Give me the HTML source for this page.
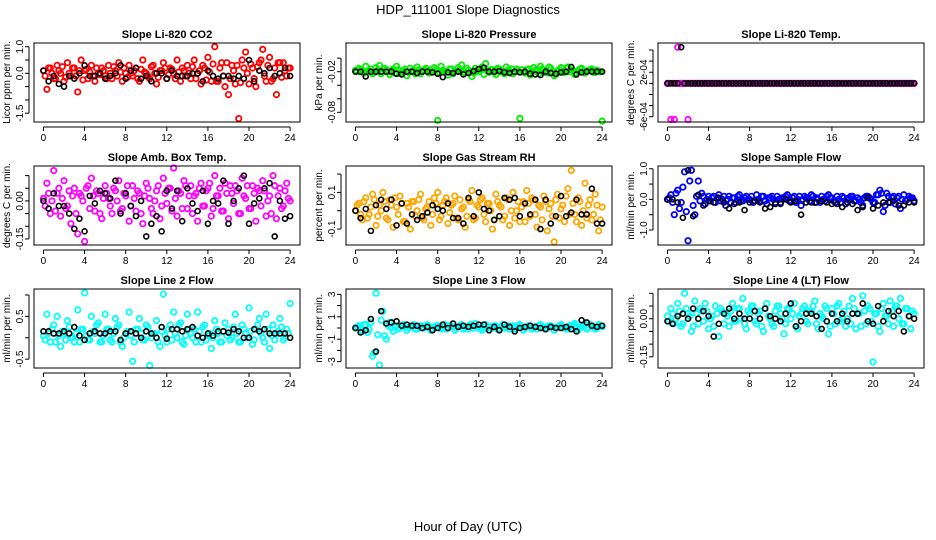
<!DOCTYPE html>
<html><head><meta charset="utf-8">
<style>
html,body{margin:0;padding:0;background:#fff;}
svg{display:block;font-family:"Liberation Sans",Arial,sans-serif;}
</style></head>
<body>
<svg id="chart" width="936" height="540" viewBox="0 0 936 540" xmlns="http://www.w3.org/2000/svg">
<text x="468" y="14" text-anchor="middle" font-size="13">HDP_111001  Slope Diagnostics</text>
<text x="468" y="531" text-anchor="middle" font-size="13">Hour of Day (UTC)</text>
</svg>
<script>
const titles = ["Slope Li-820 CO2","Slope Li-820 Pressure","Slope Li-820 Temp.","Slope Amb. Box Temp.","Slope Gas Stream RH","Slope Sample Flow","Slope Line 2 Flow","Slope Line 3 Flow","Slope Line 4 (LT) Flow"];
const yTitles = ["Licor ppm per min.","kPa per min.","degrees C per min.","degrees C per min.","percent per min.","ml/min per min.","ml/min per min.","ml/min per min.","ml/min per min."];
const colors = ["#ff0000","#00ee00","#ff00ff","#ff00ff","#ffa500","#0000ff","#00ffff","#00ffff","#00ffff"];
const xTicks = [0,4,8,12,16,20,24];
const yDomains = [[-1.83,1.14],[-0.0943,0.0224],[-6.95,7.26],[-0.174,0.138],[-0.187,0.244],[-1.49,1.09],[-0.707,1.14],[-3.57,3.48],[-0.194,0.117]];
const yTicks0 = [-1.5,-1,-0.5,0,0.5,1];
const yTickLabels0 = ["-1.5","","","0.0","","1.0"];
const yTicks1 = [-0.08,-0.06,-0.04,-0.02,0];
const yTickLabels1 = ["-0.08","","","-0.02",""];
const yTicks2 = [-6,-4,-2,0,2,4,6];
const yTickLabels2 = ["-6e-04","","","","2e-04","",""];
const yTicks3 = [-0.15,-0.1,-0.05,0,0.05,0.1];
const yTickLabels3 = ["-0.15","","","0.00","",""];
const yTicks4 = [-0.1,0,0.1,0.2];
const yTickLabels4 = ["-0.1","","0.1",""];
const yTicks5 = [-1,-0.5,0,0.5,1];
const yTickLabels5 = ["-1.0","","0.0","","1.0"];
const yTicks6 = [-0.5,0,0.5,1];
const yTickLabels6 = ["-0.5","","0.5",""];
const yTicks7 = [-3,-2,-1,0,1,2,3];
const yTickLabels7 = ["-3","","-1","","1","","3"];
const yTicks8 = [-0.15,-0.1,-0.05,0,0.05,0.1];
const yTickLabels8 = ["-0.15","","","0.00","",""];

// colored series A: values sampled every 1/3 hour from 0 to 24
const co2Values = [0.1,-0.6,0.2,-0.2,0.3,0.0,-0.3,0.4,-0.1,0.2,-0.7,0.5,0.1,-0.2,0.3,-0.3,0.0,0.2,-0.1,0.3,-0.2,0.1,0.4,-0.3,0.0,0.3,-0.1,0.2,-0.3,0.5,0.0,-0.2,0.3,-0.4,0.1,0.4,-0.2,0.2,0.0,0.5,-0.3,0.1,0.3,-0.2,0.5,0.0,-0.4,0.2,0.6,-0.3,1.0,-0.3,0.4,-0.5,-0.8,0.3,-0.4,-1.7,0.5,0.8,-0.4,0.2,-0.5,0.4,0.9,-0.3,0.6,-0.2,-0.8,0.4,0.4,-0.1,0.2];
// colored series B: values sampled every 1/3 hour, offset by 1/6 hour
const co2ValuesB = [-0.1,0.2,0.0,-0.2,0.1,0.25,-0.15,0.0,0.2,-0.1,0.1,-0.25,0.15,0.05,-0.1,0.2,-0.05,0.1,-0.2,0.0,0.25,-0.1,0.05,0.2,-0.15,0.0,0.1,-0.2,0.15,0.05,-0.1,0.25,0.0,-0.15,0.1,0.2,-0.05,0.15,-0.2,0.05,0.2,-0.1,0.0,0.25,-0.2,0.1,0.3,-0.25,0.05,0.35,-0.3,0.2,-0.1,0.4,-0.2,0.1,0.3,-0.35,0.2,0.0,0.35,-0.2,0.25,0.5,-0.1,0.3,-0.3,0.2,0.4,-0.15,0.1,0.2];
const co2Black = [0.1,-0.3,-0.1,-0.4,-0.5,-0.1,-0.2,0.0,0.3,-0.1,-0.1,0.0,-0.2,-0.1,0.0,0.3,-0.2,0.1,0.2,-0.2,-0.1,-0.3,0.0,0.0,-0.2,0.1,-0.1,-0.1,-0.1,0.0,0.0,-0.3,0.1,-0.1,-0.2,-0.1,-0.1,-0.2,-0.1,-0.2,0.5,-0.3,0.1,0.0,0.2,-0.1,0.0,0.2,-0.1];
const presValues = [-0.018,-0.015,-0.021,-0.012,-0.019,-0.023,-0.014,-0.011,-0.02,-0.017,-0.024,-0.016,-0.012,-0.022,-0.019,-0.026,-0.015,-0.02,-0.013,-0.023,-0.018,-0.016,-0.021,-0.014,-0.092,-0.012,-0.019,-0.025,-0.016,-0.02,-0.014,-0.01,-0.022,-0.018,-0.027,-0.015,-0.02,-0.013,-0.008,-0.021,-0.017,-0.024,-0.016,-0.02,-0.013,-0.019,-0.023,-0.016,-0.089,-0.021,-0.017,-0.025,-0.014,-0.02,-0.012,-0.018,-0.022,-0.015,-0.026,-0.019,-0.014,-0.021,-0.013,-0.017,-0.024,-0.019,-0.015,-0.022,-0.018,-0.016,-0.021,-0.019,-0.093];
const presValuesB = [-0.02,-0.017,-0.022,-0.019,-0.016,-0.021,-0.018,-0.023,-0.015,-0.02,-0.018,-0.022,-0.017,-0.02,-0.016,-0.021,-0.019,-0.023,-0.017,-0.02,-0.015,-0.022,-0.019,-0.017,-0.021,-0.018,-0.02,-0.016,-0.023,-0.019,-0.017,-0.021,-0.015,-0.02,-0.022,-0.018,-0.016,-0.024,-0.019,-0.017,-0.021,-0.015,-0.02,-0.023,-0.018,-0.016,-0.021,-0.019,-0.017,-0.022,-0.016,-0.02,-0.018,-0.023,-0.016,-0.021,-0.013,-0.02,-0.024,-0.017,-0.021,-0.015,-0.02,-0.018,-0.022,-0.016,-0.02,-0.019,-0.017,-0.021,-0.018,-0.02];
const presBlack = [-0.02,-0.02,-0.027,-0.02,-0.02,-0.02,-0.02,-0.02,-0.023,-0.024,-0.02,-0.02,-0.022,-0.02,-0.02,-0.021,-0.023,-0.028,-0.021,-0.022,-0.02,-0.024,-0.022,-0.019,-0.016,-0.014,-0.02,-0.02,-0.019,-0.021,-0.022,-0.02,-0.021,-0.02,-0.023,-0.024,-0.025,-0.02,-0.022,-0.023,-0.021,-0.02,-0.013,-0.024,-0.021,-0.02,-0.02,-0.02,-0.02];
// Li-820 temp in units of 1e-04 C/min
const tempValues = [0,-6.5,-6.5,6.5,0,0,-6.5,0,0,0,0,0,0,0,0,0,0,0,0,0,0,0,0,0,0,0,0,0,0,0,0,0,0,0,0,0,0,0,0,0,0,0,0,0,0,0,0,0,0,0,0,0,0,0,0,0,0,0,0,0,0,0,0,0,0,0,0,0,0,0,0,0,0];
const tempValuesB = [0,0,0,0,0,0,0,0,0,0,0,0,0,0,0,0,0,0,0,0,0,0,0,0,0,0,0,0,0,0,0,0,0,0,0,0,0,0,0,0,0,0,0,0,0,0,0,0,0,0,0,0,0,0,0,0,0,0,0,0,0,0,0,0,0,0,0,0,0,0,0,0];
const tempBlack = [0,0,0,0,6.5,0,0,0,0,0,0,0,0,0,0,0,0,0,0,0,0,0,0,0,0,0,0,0,0,0,0,0,0,0,0,0,0,0,0,0,0,0,0,0,0,0,0,0,0,0,0,0,0,0,0,0,0,0,0,0,0,0,0,0,0,0,0,0,0,0,0,0,0];
const boxValues = [0.01,0.07,-0.05,0.12,0.03,-0.06,0.08,-0.02,-0.09,0.05,-0.13,0.02,-0.16,0.06,0.09,-0.04,0.03,-0.07,0.06,0.01,-0.05,0.04,0.08,-0.03,0.02,-0.08,0.06,-0.04,0.03,-0.09,0.07,0.01,-0.05,0.04,-0.07,0.09,-0.01,0.05,0.13,-0.06,0.03,0.08,-0.03,0.06,0.02,-0.08,0.07,-0.02,0.05,-0.06,0.1,0.02,-0.04,0.07,-0.07,0.03,0.06,-0.05,0.09,0.01,-0.03,0.06,-0.08,0.04,0.08,-0.06,0.02,0.1,-0.07,0.05,-0.02,0.07,0.0];
const boxValuesB = [-0.02,0.03,0.0,-0.04,0.05,0.01,-0.03,0.04,0.02,-0.05,0.03,0.0,0.05,-0.03,0.02,0.04,-0.05,0.01,0.03,-0.02,0.05,0.0,-0.04,0.03,0.06,-0.02,0.01,0.04,-0.05,0.02,0.05,-0.03,0.0,0.06,-0.02,0.03,0.05,-0.04,0.01,0.04,-0.03,0.06,0.02,-0.05,0.03,0.05,-0.02,0.04,0.07,-0.03,0.02,0.05,-0.04,0.03,0.06,-0.01,0.04,-0.05,0.02,0.06,-0.03,0.03,0.05,-0.02,0.04,0.0,-0.05,0.06,0.02,-0.03,0.04,0.01];
const boxBlack = [0.0,-0.03,0.03,-0.02,-0.02,-0.05,-0.11,-0.07,-0.12,0.02,-0.01,0.04,0.03,0.01,0.08,-0.05,0.03,-0.02,-0.06,0.0,-0.14,-0.09,-0.06,-0.12,0.04,-0.03,0.04,-0.08,0.05,-0.01,-0.04,0.04,-0.09,0.0,-0.01,0.08,-0.09,0.0,0.05,0.1,-0.09,-0.01,0.01,0.05,0.07,-0.14,0.0,-0.07,-0.06];
const rhValues = [0.0,0.04,-0.05,0.07,-0.02,0.09,-0.08,0.03,0.1,-0.04,0.06,-0.09,0.02,0.08,-0.06,0.04,-0.1,0.05,0.0,0.09,-0.05,0.02,-0.08,0.07,0.1,-0.03,0.05,-0.07,0.03,0.08,-0.05,0.01,-0.09,0.06,0.11,-0.04,0.02,0.07,-0.06,0.04,-0.1,0.09,0.03,-0.05,0.07,-0.08,0.1,0.0,-0.06,0.05,0.11,-0.03,0.06,-0.09,0.02,0.08,-0.11,0.04,-0.17,0.09,0.01,-0.06,0.12,0.22,-0.02,0.07,-0.08,0.15,0.03,-0.05,0.09,-0.11,0.02];
const rhValuesB = [0.03,-0.02,0.05,-0.04,0.02,0.06,-0.03,0.0,0.05,-0.05,0.03,0.07,-0.02,0.04,-0.06,0.02,0.05,-0.03,0.06,-0.04,0.01,0.05,-0.02,0.04,-0.05,0.03,0.07,-0.01,0.04,-0.04,0.06,0.02,-0.03,0.05,-0.05,0.03,0.06,-0.02,0.04,0.0,-0.05,0.05,0.02,-0.03,0.06,0.0,-0.04,0.05,0.02,-0.06,0.04,0.07,-0.02,0.03,-0.05,0.05,0.01,-0.03,0.06,-0.04,0.03,0.08,-0.02,0.04,-0.06,0.05,0.0,-0.04,0.06,-0.02,0.03,-0.05];
const rhBlack = [0.0,-0.04,0.01,-0.11,0.03,0.06,0.01,0.06,-0.08,0.04,-0.07,-0.02,-0.05,-0.03,-0.01,0.03,0.01,0.0,0.04,-0.04,-0.04,-0.07,0.07,-0.03,0.1,0.01,0.0,-0.05,-0.03,0.07,0.06,0.07,-0.03,0.04,-0.02,0.06,-0.1,0.06,-0.07,-0.03,0.08,-0.03,-0.01,0.06,-0.02,-0.02,0.12,-0.07,-0.07];
const sfValues = [0.0,0.15,-0.5,0.3,-0.1,0.9,-1.35,0.95,-0.5,0.6,0.2,-0.15,0.1,0.05,-0.1,0.15,0.0,-0.2,0.1,0.05,-0.1,0.15,-0.05,0.1,0.0,-0.1,0.15,-0.05,0.1,-0.15,0.05,0.0,0.1,-0.1,0.05,0.15,-0.05,0.1,0.0,-0.2,0.1,0.05,0.15,-0.1,0.0,0.1,-0.05,0.15,0.05,-0.1,0.0,0.1,-0.15,0.05,0.1,-0.05,0.0,-0.2,0.1,0.05,-0.1,0.15,0.3,-0.4,0.2,-0.1,0.1,0.05,-0.3,0.15,0.0,0.05,-0.05];
const sfValuesB = [0.05,-0.1,0.2,-0.3,0.4,-0.4,0.6,-0.2,0.1,-0.05,0.1,0.0,-0.05,0.1,0.05,-0.05,0.1,0.0,-0.1,0.05,0.1,-0.05,0.05,0.0,0.1,-0.05,0.0,0.1,-0.05,0.05,0.1,-0.1,0.0,0.05,0.1,-0.05,0.05,-0.1,0.1,0.0,0.05,-0.05,0.1,0.05,-0.1,0.0,0.1,0.05,-0.05,0.1,-0.1,0.05,0.0,0.1,-0.05,0.05,-0.1,0.05,0.1,0.0,-0.1,0.15,0.2,-0.2,0.1,0.05,-0.15,0.1,0.0,-0.05,0.1,0.05];
const sfBlack = [0.0,0.0,-0.1,-0.6,0.95,-0.55,0.15,-0.2,-0.05,-0.1,0.05,-0.1,-0.3,-0.15,-0.1,-0.35,-0.1,-0.05,-0.1,-0.3,-0.25,-0.15,-0.15,0.0,-0.1,-0.05,-0.5,-0.1,-0.1,-0.1,-0.05,-0.1,-0.15,-0.15,-0.25,-0.1,-0.15,-0.35,-0.25,0.05,-0.3,-0.2,-0.1,-0.1,-0.05,-0.2,-0.2,-0.1,-0.1];
const l2Values = [0.05,0.55,-0.1,0.3,0.5,-0.2,0.1,0.4,0.0,-0.1,0.65,0.2,1.05,-0.05,0.5,0.1,0.35,-0.1,0.55,0.2,-0.1,0.45,0.3,-0.2,0.1,0.6,-0.55,0.2,0.45,-0.05,0.3,-0.65,0.1,0.4,-0.2,1.02,-0.1,0.3,0.6,0.0,0.35,-0.15,0.55,0.1,0.2,0.6,-0.1,0.3,0.05,-0.25,0.4,0.1,-0.1,0.35,0.2,0.0,0.55,-0.1,0.3,0.1,0.7,-0.15,0.2,0.45,0.0,0.55,-0.25,0.3,0.1,0.45,-0.05,0.2,0.8];
const l2ValuesB = [-0.05,0.1,0.2,-0.1,0.05,0.15,-0.05,0.25,0.0,0.1,-0.1,0.2,0.05,-0.05,0.15,0.3,-0.1,0.05,0.2,-0.05,0.1,0.25,-0.1,0.0,0.15,0.05,-0.1,0.2,0.1,-0.05,0.25,0.0,0.1,-0.1,0.15,0.05,0.2,-0.05,0.1,0.3,-0.1,0.05,0.2,0.0,-0.1,0.15,0.25,-0.05,0.1,0.0,0.2,-0.1,0.15,0.05,-0.05,0.25,0.1,-0.1,0.2,0.0,0.15,-0.05,0.3,0.1,-0.1,0.2,0.05,-0.05,0.15,0.25,0.0,0.1];
const l2Black = [0.15,0.15,0.1,0.1,0.15,0.1,0.25,0.05,-0.05,0.1,0.15,0.1,0.1,0.15,0.15,-0.05,0.1,0.15,0.1,0.0,0.15,0.1,0.0,0.25,-0.02,0.2,0.2,0.15,0.2,0.25,0.05,0.0,0.1,0.05,0.15,0.15,0.12,0.2,0.15,0.0,0.0,0.2,0.15,0.2,0.1,0.1,0.1,0.1,0.0];
const l3Values = [0.0,0.2,-0.3,0.3,-0.1,-2.5,3.1,-3.3,1.5,-1.0,0.5,-0.3,0.2,0.0,0.3,-0.2,0.1,0.3,-0.1,0.2,0.0,0.3,-0.2,0.1,0.2,-0.1,0.3,0.0,0.2,-0.2,0.1,0.3,0.0,-0.1,0.2,0.4,0.0,-0.2,0.3,0.1,0.0,0.2,-0.2,0.3,0.1,-0.1,0.2,0.0,0.3,-0.2,0.1,0.2,0.0,-0.1,0.3,0.1,0.0,0.2,-0.2,0.1,0.3,0.0,-0.1,0.2,0.4,-0.2,0.1,0.3,0.0,0.2,-0.1,0.3,0.1];
const l3ValuesB = [0.1,-0.2,0.3,-0.4,0.5,-2.2,-0.6,0.7,-0.7,0.2,0.0,0.1,-0.1,0.2,0.1,0.0,0.2,-0.1,0.1,0.0,0.2,0.1,-0.1,0.2,0.0,0.1,-0.1,0.2,0.1,0.0,0.2,-0.1,0.1,0.3,0.0,0.1,-0.1,0.2,0.0,0.1,0.2,-0.1,0.1,0.0,0.2,0.1,-0.1,0.2,0.1,0.0,0.2,-0.1,0.1,0.2,0.0,-0.1,0.2,0.1,0.0,0.2,0.1,-0.1,0.2,0.3,0.0,0.1,0.2,-0.1,0.3,0.1,0.0,0.2];
const l3Black = [0.0,-0.4,-0.2,0.8,-2.1,1.5,0.4,0.5,0.6,0.2,0.3,0.2,0.2,0.0,0.1,-0.2,0.0,0.3,0.0,0.4,0.1,0.2,0.1,0.2,0.3,0.3,-0.2,0.1,-0.2,0.3,0.1,-0.3,0.0,0.1,0.2,0.1,0.0,-0.1,0.1,0.0,0.0,0.1,-0.1,-0.3,0.7,0.5,0.2,0.1,0.2];
const l4Values = [0.01,0.04,-0.02,0.06,-0.03,0.1,0.02,-0.05,0.07,-0.02,0.03,0.06,-0.04,0.01,0.05,-0.07,0.03,0.02,-0.03,0.06,-0.01,0.04,0.08,-0.04,0.02,0.05,-0.02,0.03,-0.05,0.06,0.0,-0.03,0.05,0.02,-0.06,0.04,0.0,0.06,-0.04,0.02,0.05,-0.02,0.03,0.07,-0.04,0.01,0.05,-0.06,0.04,-0.02,0.06,0.0,-0.03,0.05,0.08,-0.04,0.02,0.09,-0.02,0.04,-0.17,0.02,-0.05,0.06,0.01,0.07,-0.03,0.05,0.08,-0.02,0.04,-0.04,0.02];
const l4ValuesB = [-0.01,0.02,0.0,0.03,-0.02,0.04,0.01,-0.03,0.02,0.04,-0.01,0.03,0.0,-0.03,0.02,0.04,-0.02,0.01,0.03,-0.01,0.04,0.0,-0.02,0.03,0.05,-0.01,0.02,-0.03,0.04,0.01,-0.02,0.03,0.05,0.0,-0.02,0.04,0.02,-0.03,0.01,0.04,-0.01,0.03,0.05,-0.02,0.02,0.0,0.04,-0.03,0.02,0.05,-0.01,0.03,0.0,-0.02,0.04,0.02,-0.03,0.03,0.05,-0.01,0.02,-0.03,0.04,0.01,-0.02,0.03,0.05,0.0,-0.02,0.04,0.01,0.03];
const l4Black = [-0.01,-0.02,0.01,0.02,0.0,0.04,0.0,0.03,0.01,-0.07,-0.02,0.02,0.04,0.0,0.02,0.0,0.0,0.03,0.0,0.04,0.01,0.0,-0.01,0.02,0.06,-0.03,-0.01,0.02,0.02,0.01,-0.04,-0.01,0.02,-0.01,0.02,-0.01,0.02,0.02,0.06,-0.01,-0.02,0.05,-0.01,0.03,0.01,0.03,-0.05,0.01,0.0];

const colorSeries = [co2Values,presValues,tempValues,boxValues,rhValues,sfValues,l2Values,l3Values,l4Values];
const colorSeriesB = [co2ValuesB,presValuesB,tempValuesB,boxValuesB,rhValuesB,sfValuesB,l2ValuesB,l3ValuesB,l4ValuesB];
const blackSeries = [co2Black,presBlack,tempBlack,boxBlack,rhBlack,sfBlack,l2Black,l3Black,l4Black];
const yTickSets = [yTicks0,yTicks1,yTicks2,yTicks3,yTicks4,yTicks5,yTicks6,yTicks7,yTicks8];
const yTickLabelSets = [yTickLabels0,yTickLabels1,yTickLabels2,yTickLabels3,yTickLabels4,yTickLabels5,yTickLabels6,yTickLabels7,yTickLabels8];

const NS = "http://www.w3.org/2000/svg";
const svg = document.getElementById("chart");
const colLeft = [34,346,658], rowTop = [43,166,289];
const BW = 266, BH = 79, XMIN = -0.92, XMAX = 24.96;
function mk(tag, attrs, parent){ const e=document.createElementNS(NS,tag); for(const k in attrs) e.setAttribute(k,attrs[k]); parent.appendChild(e); return e; }

for (let p=0;p<9;p++){
  const L = colLeft[p%3], T = rowTop[Math.floor(p/3)];
  const [ymin,ymax] = yDomains[p];
  const xs = h => L + (h - XMIN)/(XMAX - XMIN)*BW;
  const ys = v => T + BH - (v - ymin)/(ymax - ymin)*BH;
  const g = mk("g",{},svg);
  
  

  const t = mk("text",{x:L+BW/2,y:T-5,"text-anchor":"middle","font-size":"11","font-weight":"bold"},g);
  t.textContent = titles[p];
  
  

  const yt = mk("text",{transform:`translate(${L-24},${T+BH/2}) rotate(-90)`,"text-anchor":"middle","font-size":"10"},g);
  yt.textContent = yTitles[p];
  
  

  const pts = mk("g",{},g);
  const cs = colorSeries[p];
  cs.forEach((v,i)=>{
    const h = i*24/(cs.length-1);
    const c = mk("circle",{cx:xs(h),cy:ys(v),r:2.7,fill:"none",stroke:colors[p],"stroke-width":"1.8"},pts);
    
    
  });
  const cb = colorSeriesB[p];
  cb.forEach((v,i)=>{
    const h = (i+0.5)*24/cb.length;
    const c = mk("circle",{cx:xs(h),cy:ys(v),r:2.7,fill:"none",stroke:colors[p],"stroke-width":"1.8"},pts);
    
    
  });
  const bs = blackSeries[p];
  bs.forEach((v,i)=>{
    const h = i*24/(bs.length-1);
    const c = mk("circle",{cx:xs(h),cy:ys(v),r:2.5,fill:"none",stroke:"#000","stroke-width":"1.6"},pts);
    
    
  });

  const box = mk("rect",{x:L,y:T,width:BW,height:BH,fill:"none",stroke:"#000","stroke-width":"1"},g);
  
  

  const B = T+BH;
  mk("line",{x1:xs(0),x2:xs(24),y1:B+5,y2:B+5,stroke:"#000"},g);
  xTicks.forEach(h=>{
    mk("line",{x1:xs(h),x2:xs(h),y1:B+5,y2:B+9,stroke:"#000"},g);
    const tl = mk("text",{x:xs(h),y:B+19,"text-anchor":"middle","font-size":"10"},g);
    tl.textContent = h;
    
    
  });
  const yk = yTickSets[p], yl = yTickLabelSets[p];
  mk("line",{x1:L-5,x2:L-5,y1:ys(yk[0]),y2:ys(yk[yk.length-1]),stroke:"#000"},g);
  yk.forEach((v,i)=>{
    mk("line",{x1:L-9,x2:L-5,y1:ys(v),y2:ys(v),stroke:"#000"},g);
    if (yl[i]) {
      const tl = mk("text",{transform:`translate(${L-11},${ys(v)}) rotate(-90)`,"text-anchor":"middle","font-size":"10"},g);
      tl.textContent = yl[i];
      
      
    }
  });
}
</script>
</body></html>
